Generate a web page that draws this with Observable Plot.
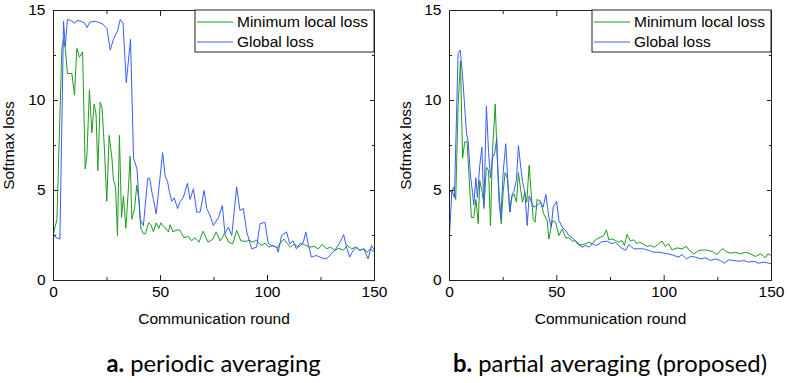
<!DOCTYPE html>
<html>
<head>
<meta charset="utf-8">
<script src="https://cdn.jsdelivr.net/npm/d3@7"></script>
<script src="https://cdn.jsdelivr.net/npm/@observablehq/plot@0.6"></script>
<style>
  html, body { margin: 0; padding: 0; background: #fff; }
  #wrap { display: flex; width: 788px; height: 383px; overflow: hidden; }
  .panel { width: 394px; position: relative; }
  .cap { font-family: Lato, "Open Sans", sans-serif; font-size: 23.8px; color: #000; text-align: center; height: 48px; line-height: 40px; padding-top: 8px; box-sizing: border-box; white-space: nowrap; }
  .cap b { font-weight: 700; }
</style>
</head>
<body>
<div id="wrap">
  <div class="panel" id="pa"></div>
  <div class="panel" id="pb"></div>
</div>
<script>
// ---- data ----
const seriesNames = ["Minimum local loss", "Global loss"];
const seriesColors = ["#1e9b1e", "#3a5cff"];
const xTicks = [0, 50, 100, 150];
const xMinorTicks = [25, 75, 125];
const yTicks = [0, 5, 10, 15];
const yMinorTicks = [2.5, 7.5, 12.5];
const captionLetters = ["a.", "b."];
const captionTexts = ["periodic averaging", "partial averaging (proposed)"];

// (a) periodic averaging — Minimum local loss
const periodicMinRound = [0,1.6,3.9,4.7,5.5,6.5,8.6,9.8,10.9,12.1,13.6,14.8,15.6,16.8,17.9,19,19.9,20.7,21.8,22.7,23.8,24.9,26,27.3,28,29,29.9,30.8,31.8,32.7,33.8,34.9,35.8,36.6,37.9,38.9,40,40.8,42,43,44.4,45.5,46.7,48,49.2,50.2,51.4,52.5,53.7,54.5,55.8,57.3,59,61,63,64.5,66,68,69.9,72.2,74.5,76,77.9,79.9,81.9,83.8,85.6,87.6,90,91.5,93,94.9,96.9,98.9,100.7,102.6,104.6,106.2,107.7,109.3,110.8,112.4,114.4,116.3,117.9,119.7,121.7,123.7,125.6,127.5,129.5,131.5,133.4,135.3,137.3,139.3,141.2,143.1,145,146.6,148.1,150];
const periodicMinLoss  = [2.6,3.4,12.9,13.4,12.9,11.5,11.5,10.3,12.9,12.4,12.7,6.2,6.9,10.6,8.2,9.8,9.2,6.1,9.9,9.6,7.3,4.4,8.06,6.8,5.6,5.2,2.5,8.06,3.5,4.7,2.9,4.9,6.9,3.4,4.0,5.3,4.4,2.9,2.6,2.6,3.2,3.1,2.7,3.2,2.9,3.2,3.0,2.9,2.7,3.1,2.7,2.8,2.8,2.37,2.45,2.2,2.37,2.13,2.74,2.13,2.3,2.7,2.2,2.6,2.13,2.04,2.78,2.2,2.17,2.24,2.13,2.24,1.95,2.07,1.85,1.95,1.8,2.13,2.3,2.04,1.85,2.04,1.85,2.04,1.95,1.85,1.9,1.76,2.0,1.76,1.85,1.67,1.8,1.67,1.95,1.76,1.85,1.67,1.76,1.57,1.76,1.57];

// (a) periodic averaging — Global loss
const periodicGlobalRound = [0,1,3,4.7,5.5,6.5,8,10,11,13,14.5,15.7,17,19,21,23,25,26.5,28,30,31.2,32.5,34,36,37.4,39,39.7,40.5,42,44,44.9,46,46.7,48,51,52.2,53.3,54.2,55.3,56.4,58,59,60.7,62.6,63.8,65.4,66.9,68.5,70.4,71.6,73.2,74.7,77.1,78.9,80.1,81.7,83.3,85.6,87.1,88.7,90.3,92.6,94.9,96.5,98.8,100.4,101.9,104.3,105,106.6,108.9,110.4,112,113.5,115.1,116.7,117.9,119,120.5,122.9,125.2,127.5,129.9,131.4,133.8,135.6,136.9,138.4,140,141.6,143.2,145,147,148.6,150];
const periodicGlobalLoss  = [2.6,2.4,2.3,14.4,13.0,14.5,14.45,14.3,14.45,14.4,14.3,14.05,14.35,14.4,14.35,14.25,14.0,12.8,13.4,13.9,14.5,14.3,11.0,13.4,6.8,6.2,4.9,3.4,3.05,5.65,5.7,4.9,4.5,3.7,7.1,5.8,5.5,4.9,4.4,4.6,4.0,4.35,4.63,5.4,4.5,5.1,3.8,3.8,5.0,4.0,3.6,3.05,3.5,4.17,2.6,2.96,2.5,5.2,3.9,4.0,2.7,1.76,1.85,3.15,3.24,2.04,1.95,1.85,1.57,2.5,2.7,2.04,2.2,1.76,2.04,2.1,2.7,2.04,1.3,1.39,1.26,1.2,1.48,1.67,2.1,2.55,1.85,1.3,1.67,1.85,1.67,1.76,1.2,1.95,1.67];

// (b) partial averaging — Minimum local loss
const partialMinRound = [0,1,2,2.9,4,5.1,6.1,7.1,8.2,9.2,10.2,11.3,12.3,13.4,14.1,15.2,16.1,17.2,18.2,19.1,20,21.3,22.2,23.1,24.1,25,25.9,27,28.1,29,30.1,31.2,32.1,33.1,34,35.1,36,37.1,38,39,39.9,40.8,42.4,43.9,45.5,46.3,47.9,49.4,51,52.5,54.1,55.6,57.2,58.7,60.3,61.8,63.4,65,66.5,68,70.3,71.9,73.1,74.2,75.7,77.3,78.8,80.4,81.5,82.7,84.3,85.8,87.4,88.6,90.5,92,93.6,95.5,97.5,99,100.6,102.1,103.7,106,108.3,110.4,111.5,113.8,116.1,118.5,120.8,123.1,124.7,126.2,127.5,129.3,131.2,133.2,135.5,137.9,140.2,142.5,144.9,147.2,148.3,150];
const partialMinLoss  = [5.0,4.9,5.2,4.5,9.7,12.2,6.8,7.7,7.7,5.6,3.5,3.5,4.5,3.15,5.55,4.9,4.2,6.3,6.1,3.05,7.1,9.8,6.9,4.9,3.15,4.9,6.0,5.65,3.8,4.6,4.8,4.35,6.0,5.1,4.35,4.9,4.35,6.4,4.9,3.4,3.24,4.5,4.4,3.7,3.33,2.3,3.33,3.24,2.5,2.87,2.37,2.37,2.2,2.2,1.94,2.0,2.04,2.13,2.04,2.26,2.41,2.5,2.81,2.26,2.31,2.22,2.13,2.22,1.94,2.56,2.19,2.26,2.04,2.13,2.0,1.89,1.94,1.85,2.04,2.19,1.89,2.04,1.7,1.81,1.76,1.89,1.7,1.48,1.67,1.7,1.67,1.57,1.44,1.67,1.76,1.57,1.52,1.57,1.48,1.57,1.48,1.33,1.48,1.26,1.48,1.39];

// (b) partial averaging — Global loss
const partialGlobalRound = [0,1.1,2.3,3,4,5,6,6.7,7.9,8.7,9.8,10.7,11.3,12.3,13,14.1,15.1,16,17.2,18.2,19.1,20,21.1,22,23,23.9,25,26.2,27.2,28.1,29,30.1,31.2,32.1,33.1,34,35.1,36.2,37.1,38.2,39.3,40.8,42.4,43.6,44.9,46.3,47.4,48.3,49.9,51,52.5,54.1,55.6,57.2,58.7,60.3,61.8,63.4,65,66.5,68,69.6,70.3,73.4,75.7,77.3,79.6,82,83.5,85.8,88.2,90.5,92.8,95.2,97.5,99.8,102.1,104.5,106.8,108.3,110.4,112.2,114.6,116.9,119.2,121.6,123.9,126.2,128.1,130.1,132.4,134.8,137.1,139.4,141.7,144.1,146.4,150];
const partialGlobalLoss  = [2.5,5.0,4.6,7.9,12.6,12.8,11.5,10.3,8.2,7.7,5.8,4.9,4.2,5.7,4.6,6.4,7.4,4.0,9.7,7.1,5.7,6.8,7.1,7.9,4.5,3.4,6.0,7.6,5.5,3.8,4.7,5.0,5.6,7.5,6.4,5.5,4.9,3.05,4.7,4.35,4.07,4.17,4.35,4.07,4.78,3.5,2.96,4.07,4.4,3.33,2.96,2.78,2.5,2.37,2.2,2.04,1.85,1.95,1.85,2.04,1.95,2.0,2.13,2.19,2.04,2.13,1.85,1.67,2.0,1.76,1.76,1.76,1.67,1.57,1.57,1.52,1.48,1.39,1.3,1.44,1.2,1.33,1.3,1.2,1.26,1.11,1.2,1.11,0.96,1.15,1.11,1.07,1.11,1.02,1.07,0.96,1.02,0.93];

function table(series, rounds, losses) {
  return rounds.map((r, i) => ({round: r, loss: losses[i], series}));
}

const axisColor = "#222";

function makePanel(el, minR, minL, gloR, gloL, cfg, idx) {
  const data = [
    ...table(seriesNames[0], minR, minL),
    ...table(seriesNames[1], gloR, gloL)
  ];
  const W = 394, H = 335;
  const plot = Plot.plot({
    width: W, height: H,
    marginLeft: cfg.ml, marginRight: cfg.mr, marginTop: 10, marginBottom: 55,
    style: {fontFamily: "'Liberation Sans', Arial, sans-serif", fontSize: "15.5px", color: "#000", background: "#fff", overflow: "visible"},
    x: {domain: [0, 150]},
    y: {domain: [0, 15]},
    color: {domain: seriesNames, range: seriesColors},
    marks: [
      Plot.line(data, {x: "round", y: "loss", z: "series", stroke: "series", strokeWidth: 1}),
      Plot.frame({stroke: axisColor}),
      Plot.axisX(xTicks, {anchor: "bottom", tickSize: -5, tickPadding: 10, stroke: axisColor, label: "Communication round", labelAnchor: "center", labelArrow: "none", labelOffset: 43}),
      Plot.axisX(xMinorTicks, {anchor: "bottom", tickSize: -3, tickFormat: () => "", stroke: axisColor, label: null}),
      Plot.axisX(xTicks, {anchor: "top", tickSize: -5, tickFormat: () => "", stroke: axisColor, label: null}),
      Plot.axisX(xMinorTicks, {anchor: "top", tickSize: -3, tickFormat: () => "", stroke: axisColor, label: null}),
      Plot.axisY(yTicks, {anchor: "left", tickSize: -5, tickPadding: 13, stroke: axisColor, label: "Softmax loss", labelAnchor: "center", labelArrow: "none", labelOffset: cfg.lo}),
      Plot.axisY(yMinorTicks, {anchor: "left", tickSize: -3, tickFormat: () => "", stroke: axisColor, label: null}),
      Plot.axisY(yTicks, {anchor: "right", tickSize: -5, tickFormat: () => "", stroke: axisColor, label: null}),
      Plot.axisY(yMinorTicks, {anchor: "right", tickSize: -3, tickFormat: () => "", stroke: axisColor, label: null})
    ]
  });
  el.appendChild(plot);

  // legend box in the top-right corner of the frame
  const svg = d3.select(plot);
  const lw = 179, lh = 42;
  const x0 = W - cfg.mr - lw, y0 = 10;
  const g = svg.append("g").attr("text-anchor", "start");
  g.append("rect").attr("x", x0).attr("y", y0).attr("width", lw).attr("height", lh)
    .attr("fill", "#fff").attr("stroke", axisColor).attr("stroke-width", 1);
  seriesNames.forEach((name, i) => {
    const yy = y0 + 12 + i * 20;
    g.append("line").attr("x1", x0 + 2).attr("x2", x0 + 38).attr("y1", yy).attr("y2", yy)
      .attr("stroke", seriesColors[i]).attr("stroke-width", 1);
    g.append("text").attr("x", x0 + 42).attr("y", yy).attr("dy", "0.35em")
      .attr("text-anchor", "start")
      .style("font-family", "'Liberation Sans', Arial, sans-serif").style("font-size", "15.5px")
      .attr("fill", "#000").text(name);
  });

  const cap = document.createElement("div");
  cap.className = "cap";
  cap.style.paddingLeft = cfg.ml + "px";
  cap.style.paddingRight = cfg.mr + "px";
  cap.innerHTML = "<b></b> <span></span>";
  cap.querySelector("b").textContent = captionLetters[idx];
  cap.querySelector("span").textContent = captionTexts[idx];
  el.appendChild(cap);
}

makePanel(document.getElementById("pa"), periodicMinRound, periodicMinLoss, periodicGlobalRound, periodicGlobalLoss, {ml: 53, mr: 20, lo: 51}, 0);
makePanel(document.getElementById("pb"), partialMinRound, partialMinLoss, partialGlobalRound, partialGlobalLoss, {ml: 55, mr: 17, lo: 50}, 1);
</script>
</body>
</html>
